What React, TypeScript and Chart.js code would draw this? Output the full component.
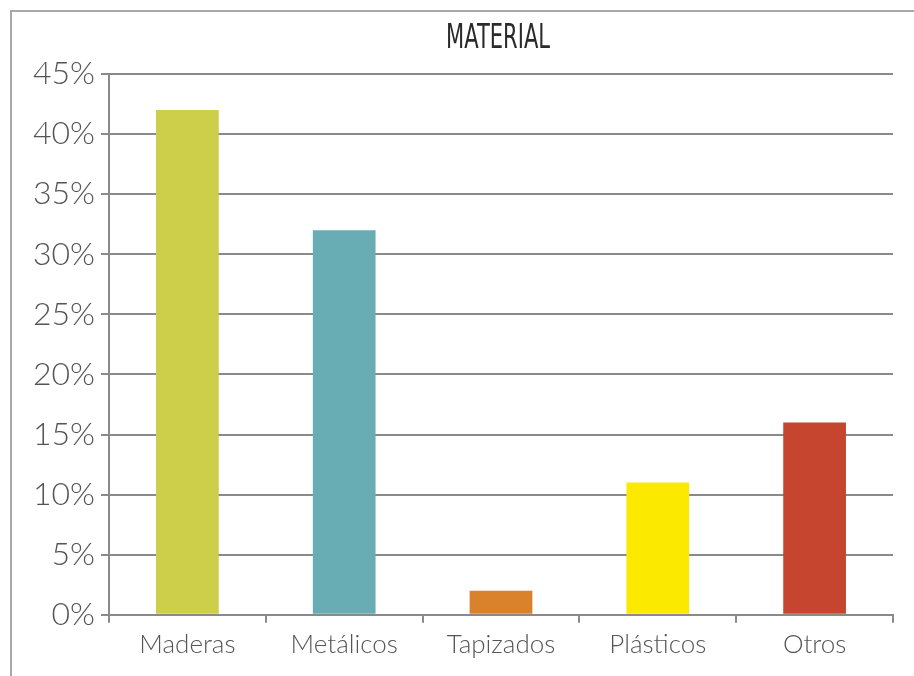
import React, { useEffect, useRef } from "react";
import { Chart, registerables } from "chart.js";

Chart.register(...registerables);

const categories = ["Maderas", "Metálicos", "Tapizados", "Plásticos", "Otros"];
const values = [42, 32, 2, 11, 16];
const barColors = ["#CDCE4A", "#67ADB3", "#D9822B", "#FCE900", "#C5452F"];
const titleText = "MATERIAL";

// Draws a condensed title centred over the plot area
const condensedTitle = {
  id: "condensedTitle",
  afterDraw(chart: any, _args: any, opts: any) {
    const { ctx, chartArea } = chart;
    ctx.save();
    ctx.font = `${opts.weight} ${opts.size}px ${opts.family}`;
    const w = ctx.measureText(opts.text).width;
    const sx = opts.targetWidth / w;
    const cx = (chartArea.left + chartArea.right) / 2 + opts.dx;
    ctx.translate(cx, opts.y);
    ctx.scale(sx, 1);
    ctx.fillStyle = opts.color;
    ctx.strokeStyle = opts.color;
    ctx.lineWidth = opts.stroke;
    ctx.textAlign = "center";
    ctx.textBaseline = "middle";
    ctx.fillText(opts.text, 0, 0);
    if (opts.stroke > 0) ctx.strokeText(opts.text, 0, 0);
    ctx.restore();
  },
};

export default function App() {
  const ref = useRef<HTMLCanvasElement | null>(null);

  useEffect(() => {
    if (!ref.current) return;
    const chart = new Chart(ref.current, {
      type: "bar",
      data: {
        labels: categories,
        datasets: [
          {
            data: values,
            backgroundColor: barColors,
            borderWidth: 0,
            barPercentage: 0.4,
            categoryPercentage: 1,
          },
        ],
      },
      plugins: [condensedTitle],
      options: {
        responsive: false,
        animation: false,
        layout: { padding: { left: 0, right: 21, top: 74, bottom: 10 } },
        plugins: {
          legend: { display: false },
          tooltip: { enabled: false },
          title: { display: false },
          condensedTitle: {
            text: titleText,
            family: "'DejaVu Sans', sans-serif",
            weight: "normal",
            size: 34,
            color: "#2a2a2a",
            targetWidth: 104,
            y: 39,
            dx: -3,
            stroke: 0,
          },
        } as any,
        scales: {
          x: {
            grid: {
              drawOnChartArea: false,
              drawTicks: true,
              tickLength: 8,
              color: "#8a8a8a",
              lineWidth: 2,
              offset: true,
            },
            border: { color: "#8a8a8a", width: 2 },
            ticks: {
              color: "#555",
              padding: 6,
              font: { family: "Lato, 'Open Sans', sans-serif", size: 26, weight: "300" },
            },
          },
          y: {
            min: 0,
            max: 45,
            afterFit: (s: any) => {
              s.width = 109;
            },
            grid: {
              color: "#8a8a8a",
              lineWidth: 2,
              tickLength: 8,
            },
            border: { color: "#8a8a8a", width: 2 },
            ticks: {
              stepSize: 5,
              color: "#555",
              padding: 6,
              font: { family: "Lato, 'Open Sans', sans-serif", size: 32, weight: "300" },
              callback: (v: any) => v + "%",
            },
          },
        },
      },
    });
    return () => chart.destroy();
  }, []);

  return (
    <div style={{ position: "absolute", left: 0, top: 0, width: 914, height: 676, background: "#fff", overflow: "hidden" }}>
      <div
        style={{
          position: "absolute",
          left: 10,
          top: 10,
          width: 920,
          height: 700,
          borderTop: "2px solid #a8a8a8",
          borderLeft: "2px solid #a8a8a8",
        }}
      />
      <canvas ref={ref} width={914} height={676} style={{ position: "absolute", left: 0, top: 0 }} />
    </div>
  );
}
